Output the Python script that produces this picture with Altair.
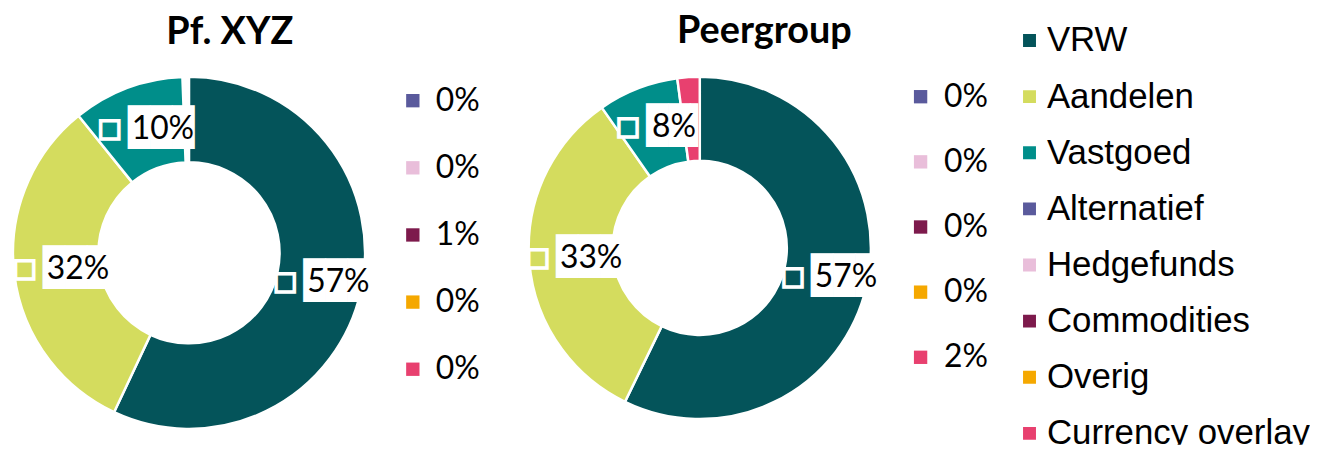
import altair as alt
import pandas as pd

categories = ["VRW", "Aandelen", "Vastgoed", "Alternatief", "Hedgefunds",
              "Commodities", "Overig", "Currency overlay"]
colors = ["#04545A", "#D4DC5E", "#008E8A", "#5A5A9C", "#E9BEDA",
          "#7D1A4C", "#F5A800", "#E8406F"]
pf_values = [57.0, 32.2, 10.2, 0.0, 0.0, 0.6, 0.0, 0.0]
peer_values = [57.2, 33.1, 7.6, 0.0, 0.0, 0.0, 0.0, 2.1]
main_cats = ["VRW", "Aandelen", "Vastgoed"]
small_cats = ["Alternatief", "Hedgefunds", "Commodities", "Overig", "Currency overlay"]
titles = ["Pf. XYZ", "Peergroup"]

H = 438
color_scale = alt.Scale(domain=categories, range=colors)


def color_enc():
    return alt.Color("cat:N", scale=color_scale, legend=None)


def panel(values, title, width, cx, cy, r_out, r_in, r_lab,
          tx, ty, kx, lx, y0, y1):
    df = pd.DataFrame({"cat": categories, "value": values,
                       "idx": list(range(len(categories)))})
    total = float(sum(values))
    th_scale = alt.Scale(domain=[0, total])
    base = alt.Chart(df).transform_stack(
        stack="value", groupby=[], as_=["v0", "v1"], sort=[alt.SortField("idx")]
    ).transform_calculate(
        mid="(datum.v0 + datum.v1) / 2",
        label="format(datum.value, '.0f') + '%'",
    )
    arcs = base.mark_arc(outerRadius=r_out, innerRadius=r_in,
                         stroke="white", strokeWidth=2.5).encode(
        theta=alt.Theta("v0:Q", scale=th_scale),
        theta2="v1:Q",
        color=color_enc(),
        opacity=alt.condition("datum.value < 1", alt.value(0), alt.value(1)),
        x=alt.value(cx), y=alt.value(cy),
    )
    layers = [arcs]
    mains = base.transform_filter(alt.FieldOneOfPredicate(field="cat", oneOf=main_cats))
    th = alt.Theta("mid:Q", scale=th_scale)
    for n, key_dx, text_dx, box_dx, box_txt in [(3, -33, -11, -15, "███"),
                                                (2, -25, -1, -7, "██▍")]:
        b = mains.transform_filter(f"length(datum.label) == {n}")
        layers.append(b.mark_text(radius=r_lab, dx=box_dx, align="left", baseline="middle",
                                  font="DejaVu Sans Mono", fontSize=37, color="white",
                                  text=box_txt).encode(theta=th, x=alt.value(cx), y=alt.value(cy)))
        layers.append(b.mark_text(radius=r_lab, dx=key_dx, align="center", baseline="middle",
                                  font="DejaVu Sans", fontSize=24, stroke="white",
                                  strokeWidth=3.5, text="■").encode(
            theta=th, color=color_enc(), x=alt.value(cx), y=alt.value(cy)))
        layers.append(b.mark_text(radius=r_lab, dx=text_dx, align="left", baseline="middle",
                                  font="Lato", fontSize=32, color="black").encode(
            theta=th, text="label:N", x=alt.value(cx), y=alt.value(cy)))
    small = base.transform_filter(alt.FieldOneOfPredicate(field="cat", oneOf=small_cats))
    y_enc = alt.Y("cat:N", sort=small_cats,
                  scale=alt.Scale(domain=small_cats, range=[y0, y1], padding=0), axis=None)
    layers.append(small.mark_point(shape="square", filled=True, size=180, opacity=1).encode(
        x=alt.value(kx), y=y_enc, color=color_enc()))
    layers.append(small.mark_text(align="left", baseline="middle", font="Lato",
                                  fontSize=32, color="black").encode(
        x=alt.value(lx), y=y_enc, text="label:N"))
    tdf = pd.DataFrame({"t": [title]})
    layers.append(alt.Chart(tdf).mark_text(font="Lato", fontSize=38, fontWeight="bold",
                                           align="center", baseline="alphabetic",
                                           color="black").encode(
        text="t:N", x=alt.value(tx), y=alt.value(ty)))
    return alt.layer(*layers).properties(width=width, height=H)


p1 = panel(pf_values, titles[0], 492, 181, 245, 177, 91, 133,
           222, 35, 406, 429, 92, 362)
p2 = panel(peer_values, titles[1], 500, 202.5, 240, 172, 87.5, 130,
           267.5, 34, 424.5, 448, 88, 350)

# legend panel built from the category list
leg_df = pd.DataFrame({"cat": categories})
leg_y = alt.Y("cat:N", sort=categories,
              scale=alt.Scale(domain=categories, range=[31.5, 426.5], padding=0), axis=None)
leg_sq = alt.Chart(leg_df).mark_point(shape="square", filled=True, size=169, opacity=1,
                                      clip=True).encode(
    x=alt.value(34), y=leg_y, color=color_enc())
leg_tx = alt.Chart(leg_df).mark_text(align="left", baseline="middle", font="Liberation Sans",
                                     fontSize=35, color="black", clip=True).encode(
    x=alt.value(51.5), y=leg_y, text="cat:N")
p3 = alt.layer(leg_sq, leg_tx).properties(width=316, height=H)

chart = alt.hconcat(p1, p2, p3, spacing=0).properties(padding=0).configure_view(
    strokeWidth=0
)

chart.save("out.html", embed_options={"renderer": "svg", "actions": False})
